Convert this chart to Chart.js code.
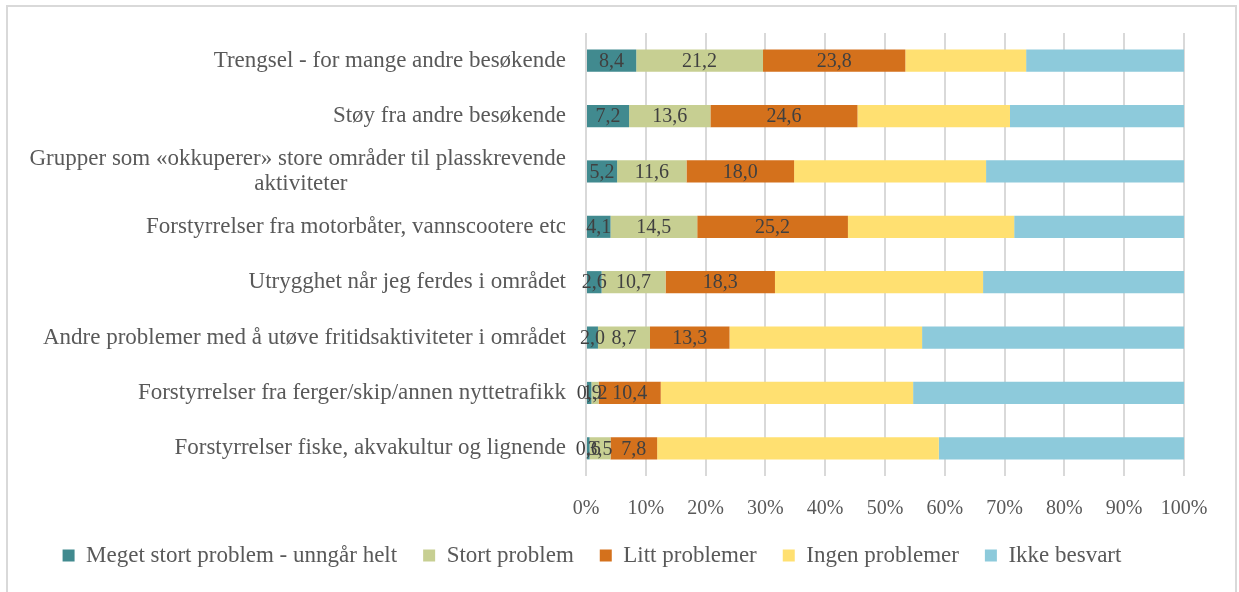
<!DOCTYPE html>
<html>
<head>
<meta charset="utf-8">
<script src="https://cdn.jsdelivr.net/npm/chart.js@4"></script>
<style>
  body { margin: 0; background: #fff; }
  #frame { position: absolute; left: 6px; top: 5px; width: 1231px; height: 600px; border: 2px solid #d9d9d9; box-sizing: border-box; }
  #wrap { position: absolute; left: 0; top: 0; width: 1239px; height: 592px; }
</style>
</head>
<body>
<div id="frame"></div>
<div id="wrap"><canvas id="chart" width="1239" height="592"></canvas></div>
<script>
const FONT = "'Liberation Serif', 'DejaVu Serif', serif";
const LABEL_SIZE = 23;
const TICK_SIZE = 20;

// categories (top to bottom)
const categories = [
    'Trengsel - for mange andre besøkende',
    'Støy fra andre besøkende',
    ['Grupper som «okkuperer» store områder til plasskrevende', 'aktiviteter'],
    'Forstyrrelser fra motorbåter, vannscootere etc',
    'Utrygghet når jeg ferdes i området',
    'Andre problemer med å utøve fritidsaktiviteter i området',
    'Forstyrrelser fra ferger/skip/annen nyttetrafikk',
    'Forstyrrelser fiske, akvakultur og lignende'
];

// series values (percent)
const megetStort = [8.4, 7.2, 5.2, 4.1, 2.6, 2.0, 0.9, 0.6];
const stort      = [21.2, 13.6, 11.6, 14.5, 10.7, 8.7, 1.2, 3.5];
const litt       = [23.8, 24.6, 18.0, 25.2, 18.3, 13.3, 10.4, 7.8];
const ingen      = [20.2, 25.5, 32.1, 27.8, 34.8, 32.2, 42.2, 47.1];
const ikke       = [26.4, 29.1, 33.1, 28.4, 33.6, 43.8, 45.3, 41.0];

const seriesNames = ['Meget stort problem - unngår helt', 'Stort problem', 'Litt problemer', 'Ingen problemer', 'Ikke besvart'];
const seriesColors = ['#418a8f', '#c7cf92', '#d4711c', '#ffe071', '#8dcadb'];
const xTicks = [0, 10, 20, 30, 40, 50, 60, 70, 80, 90, 100];

// pad the second line of wrapped labels so it sits centred under the first
const measureCtx = document.createElement('canvas').getContext('2d');
measureCtx.font = LABEL_SIZE + 'px ' + FONT;
const labels = categories.map(c => {
    if (!Array.isArray(c)) return c;
    const w1 = measureCtx.measureText(c[0]).width;
    let second = c[1];
    const target = w1 - (w1 - measureCtx.measureText(c[1]).width) / 2;
    while (measureCtx.measureText(second + ' ').width <= target) second += ' ';
    return [c[0], second];
});

// draw value labels on the first three series
const valueLabels = {
    id: 'valueLabels',
    afterDatasetsDraw(chart) {
        const ctx = chart.ctx;
        ctx.save();
        ctx.font = TICK_SIZE + 'px ' + FONT;
        ctx.fillStyle = '#404040';
        ctx.textAlign = 'center';
        ctx.textBaseline = 'middle';
        [0, 1, 2].forEach(i => {
            const meta = chart.getDatasetMeta(i);
            meta.data.forEach((bar, j) => {
                const v = chart.data.datasets[i].data[j];
                const x = (bar.x + bar.base) / 2;
                ctx.fillText(v.toFixed(1).replace('.', ','), x, bar.y + 1);
            });
        });
        ctx.restore();
    }
};

const datasets = [megetStort, stort, litt, ingen, ikke].map((d, i) => ({
    label: seriesNames[i],
    data: d,
    backgroundColor: seriesColors[i],
    borderWidth: 0,
    barPercentage: 0.4,
    categoryPercentage: 1.0
}));

new Chart(document.getElementById('chart'), {
    type: 'bar',
    data: { labels: labels, datasets: datasets },
    plugins: [valueLabels],
    options: {
        indexAxis: 'y',
        responsive: false,
        animation: false,
        layout: { padding: { top: 33, right: 55, bottom: 15, left: 0 } },
        plugins: {
            tooltip: { enabled: false },
            legend: {
                position: 'bottom',
                labels: {
                    boxWidth: 12,
                    boxHeight: 12,
                    padding: 26,
                    color: '#595959',
                    font: { family: FONT, size: LABEL_SIZE }
                }
            }
        },
        scales: {
            x: {
                stacked: true,
                min: 0,
                max: 100,
                afterBuildTicks: scale => { scale.ticks = xTicks.map(v => ({ value: v })); },
                afterFit: scale => { scale.height = 42; },
                ticks: {
                    padding: 21,
                    color: '#595959',
                    font: { family: FONT, size: TICK_SIZE },
                    callback: v => v + '%'
                },
                grid: { color: '#d9d9d9', lineWidth: 2, drawTicks: false },
                border: { display: false }
            },
            y: {
                stacked: true,
                afterFit: scale => { scale.width = 586; },
                ticks: {
                    padding: 20,
                    color: '#595959',
                    font: { family: FONT, size: LABEL_SIZE, lineHeight: 1.05 }
                },
                grid: { display: false, drawTicks: false },
                border: { display: false }
            }
        }
    }
});
</script>
</body>
</html>
